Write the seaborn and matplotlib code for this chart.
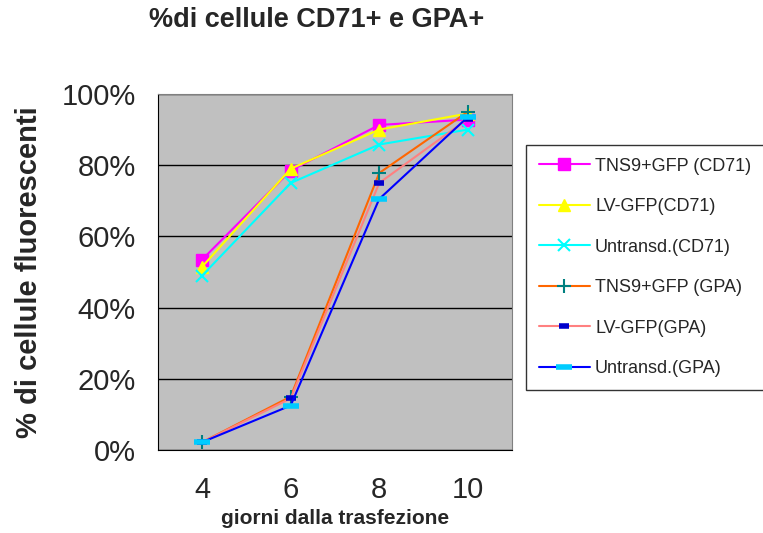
import numpy as np
import pandas as pd
import matplotlib.pyplot as plt
import seaborn as sns
from matplotlib.lines import Line2D

giorni = ["4", "6", "8", "10"]
tns9_cd71 = [53.5, 78.5, 91.3, 92.8]
lv_cd71 = [51.5, 79.0, 90.0, 94.5]
untr_cd71 = [49.0, 75.0, 85.8, 90.0]
tns9_gpa = [2.2, 15.0, 77.8, 95.0]
lv_gpa = [2.2, 14.5, 75.0, 93.0]
untr_gpa = [2.2, 12.5, 70.5, 93.5]

series = [
    ("TNS9+GFP (CD71)", tns9_cd71, "#FF00FF", "s", "#FF00FF", 8, 1),
    ("LV-GFP(CD71)", lv_cd71, "#FFFF00", "^", "#FFFF00", 9, 1),
    ("Untransd.(CD71)", untr_cd71, "#00FFFF", "x", "#00FFFF", 9, 1.5),
    ("TNS9+GFP (GPA)", tns9_gpa, "#FF6600", "+", "#008080", 10, 1.5),
    ("LV-GFP(GPA)", lv_gpa, "#FF8080", "_", "#0000CC", 7, 4),
    ("Untransd.(GPA)", untr_gpa, "#0000FF", "_", "#00CCFF", 12, 4),
]

sns.set_style("white")
plt.rcParams["font.family"] = ["Liberation Sans", "DejaVu Sans"]

fig = plt.figure(figsize=(7.63, 5.33), dpi=100)
ax = fig.add_axes([0.207, 0.1557, 0.464, 0.668])
ax.set_facecolor("#C0C0C0")

handles = []
for nome, vals, col, mk, mcol, ms, mew in series:
    df = pd.DataFrame({"giorno": giorni, "valore": vals})
    sns.lineplot(data=df, x="giorno", y="valore", ax=ax, color=col, lw=1.5,
                 marker=mk, markersize=ms, markerfacecolor=mcol,
                 markeredgecolor=mcol, markeredgewidth=mew, sort=False)
    handles.append(Line2D([], [], color=col, lw=1.5, marker=mk, markersize=ms,
                          markerfacecolor=mcol, markeredgecolor=mcol,
                          markeredgewidth=mew, label=nome))

ax.set_xlim(-0.5, 3.5)
ax.set_ylim(0, 100)
ax.set_yticks(np.arange(0, 101, 20))
ax.set_yticklabels([f"{v}%" for v in range(0, 101, 20)], fontsize=21)
ax.set_xticks(np.arange(-0.5, 3.6, 1))
ax.set_xticklabels([])
ax.set_xticks(range(len(giorni)), minor=True)
ax.set_xticklabels(giorni, minor=True, fontsize=21)
ax.tick_params(axis="x", which="major", length=7, width=1, color="black", direction="out")
ax.tick_params(axis="x", which="minor", length=0, pad=19)
ax.tick_params(axis="y", length=7, width=1, color="black", direction="out", pad=9)
ax.yaxis.grid(True, color="black", lw=1)
ax.set_axisbelow(True)
for s in ["top", "right"]:
    ax.spines[s].set_color("#808080")
for s in ["left", "bottom"]:
    ax.spines[s].set_color("black")

ax.set_xlabel("giorni dalla trasfezione", fontsize=15, fontweight="bold", labelpad=3)
ax.set_ylabel("% di cellule fluorescenti", fontsize=21, fontweight="bold", labelpad=13)
fig.text(0.415, 0.962, "%di cellule CD71+ e GPA+", fontsize=19.5, fontweight="bold",
         ha="center", va="center")

leg = fig.legend(handles=handles, loc="upper left", bbox_to_anchor=(0.69, 0.728),
                 fontsize=13, frameon=True, fancybox=False, borderpad=0.7,
                 labelspacing=1.3, handlelength=2.8, handletextpad=0.3,
                 borderaxespad=0)
leg.get_frame().set_edgecolor("black")
leg.get_frame().set_linewidth(1)

fig.savefig("out.png", dpi=100)
